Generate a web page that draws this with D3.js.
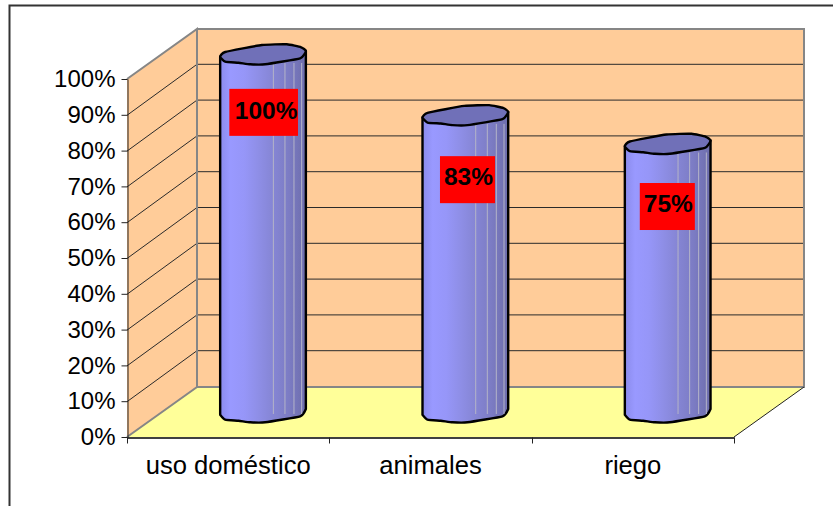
<!DOCTYPE html>
<html><head><meta charset="utf-8">
<script src="https://cdnjs.cloudflare.com/ajax/libs/d3/7.8.5/d3.min.js"></script>
<style>
html,body{margin:0;padding:0;background:#fff}
svg{display:block}
text{font-family:"Liberation Sans",Arial,sans-serif;fill:#000}
</style></head><body><svg id="c" width="833" height="506"></svg>
<script>
const categories = ["uso doméstico", "animales", "riego"];
const values = [1.00, 0.83, 0.75];
const valueLabels = ["100%", "83%", "75%"];
const tickValues = [0, .1, .2, .3, .4, .5, .6, .7, .8, .9, 1];
// height on the value axis at which each data label sits
const labelLevels = [0.837, 0.649, 0.574];
const labelNudge = [0.5, 2, -0.5];
const labelTextNudge = [2.5, 1, 1];
const labelBaseline = [7, 5.5, 5.5];

const svg = d3.select("#c");
const plot = {x0:127, x1:734, y0:437, y1:79, dx:70, dy:-50};
const y = d3.scaleLinear().domain([0,1]).range([plot.y0, plot.y1]);
const x = d3.scaleBand().domain(categories).range([plot.x0, plot.x1]);
const barBase = plot.y0 + plot.dy/2;   // cylinders stand mid-depth
const poly = d3.line().curve(d3.curveLinearClosed);
const smoothClosed = d3.line().curve(d3.curveCardinalClosed.tension(.55));
const smoothOpen = d3.line().curve(d3.curveCardinal.tension(.55));

// gradient of the cylinder body
const grad = svg.append("defs").append("linearGradient").attr("id","body");
[[0,"#8b8bec"],[.12,"#9999ff"],[.28,"#9696f8"],[.45,"#8e8ee6"],[.6,"#8686d6"],[.8,"#7c7cc4"],[1,"#6d6dab"]]
  .forEach(([o,c])=>grad.append("stop").attr("offset",o).attr("stop-color",c));

// outer frame: only top and left edges are in view
svg.append("path").attr("d","M9.5,506V5.5H833").attr("fill","none").attr("stroke","#333").attr("stroke-width",2);

const {x0,x1,y0,y1,dx,dy} = plot;
// floor
svg.append("path").attr("d",poly([[x0,y0],[x1,y0],[x1+dx,y0+dy],[x0+dx,y0+dy]])).attr("fill","#ffff99");
// left wall
svg.append("path").attr("d",poly([[x0,y0],[x0+dx,y0+dy],[x0+dx,y1+dy],[x0,y1]])).attr("fill","#ffcc99");
// back wall
svg.append("path").attr("d",poly([[x0+dx,y0+dy],[x1+dx,y0+dy],[x1+dx,y1+dy],[x0+dx,y1+dy]])).attr("fill","#ffcc99");

// gridlines
const grid = svg.append("g").attr("fill","none").attr("stroke","#2a2a2a").attr("stroke-width",1);
tickValues.filter(t=>t>0&&t<1).forEach(t=>{
  grid.append("path").attr("d",`M${x0},${y(t)+.5}L${x0+dx},${y(t)+dy-.5}H${x1+dx}`);
});

// grey wall edges
svg.append("path").attr("d",`M${x0},${y0}L${x0+dx},${y0+dy}V${y1+dy}L${x0},${y1}M${x0+dx},${y0+dy}H${x1+dx}V${y1+dy}H${x0+dx}`)
  .attr("fill","none").attr("stroke","#868686").attr("stroke-width",2);
// right floor edge
svg.append("path").attr("d",`M${x1},${y0}L${x1+dx},${y0+dy}`).attr("fill","none").attr("stroke","#222").attr("stroke-width",1);

// cylinders
const rimBack = [[-38,-2],[-1.3,-9],[23.7,-9.7],[38,-6.7],[42.7,-3]];
const rimFront = [[-43,2.7],[-38,7.7],[-24.7,8.7],[-13,10.3],[2,10.3],[37,4.3],[42.7,-3]];
const facets = [9.7,21.3,30.3,38];
const at = (pts,cx,cy)=>pts.map(p=>[cx+p[0],cy+p[1]]);

categories.forEach((c,i)=>{
  const cx = x(c)+x.bandwidth()/2+dx/2;
  const topY = y(values[i])+dy/2;
  const g = svg.append("g");
  const bottom = at(rimFront,cx,barBase);
  const topFront = at(rimFront,cx,topY);
  const tl = topFront[0], tr = topFront[topFront.length-1];
  g.append("path").attr("d",`M${tl}` + smoothOpen(bottom).replace(/^M/,"L") + `L${tr}Z`)
    .attr("fill","url(#body)").attr("stroke","#000").attr("stroke-width",2.4).attr("stroke-linejoin","round");
  facets.forEach(f=>{
    g.append("line").attr("x1",cx+f+.5).attr("x2",cx+f+.5).attr("y1",topY+9).attr("y2",barBase+2)
      .attr("stroke","#b4b4c8").attr("stroke-width",1);
  });
  g.append("path").attr("d",smoothClosed([...at(rimBack,cx,topY),...topFront.slice().reverse().slice(1)]))
    .attr("fill","#7070b8").attr("stroke","#000").attr("stroke-width",2.4).attr("stroke-linejoin","round");
});

// value axis
const yAxis = svg.append("g").attr("transform",`translate(${x0+.5},0)`)
  .call(d3.axisLeft(y).tickValues(tickValues).tickFormat(d3.format(".0%")).tickSize(6).tickPadding(6).tickSizeOuter(0));
yAxis.selectAll("text").style("font-size","24px");
yAxis.selectAll("line,path").attr("stroke","#222");

// category axis
const xAxis = svg.append("g").attr("transform",`translate(0,${y0+.5})`)
  .call(d3.axisBottom(x).tickSize(0).tickPadding(18).tickSizeOuter(0));
xAxis.selectAll("text").style("font-size","25.6px");
xAxis.selectAll("path").attr("stroke","#000").attr("stroke-width",1.5);
categories.concat([null]).forEach((c,i)=>{
  const px = Math.round(x0+i*x.step())+.5;
  xAxis.append("line").attr("x1",px).attr("x2",px).attr("y1",0).attr("y2",6).attr("stroke","#222");
});

// data labels
categories.forEach((c,i)=>{
  const cx = x(c)+x.bandwidth()/2+dx/2+labelNudge[i];
  const cy = y(labelLevels[i])+dy/2;
  const box = svg.append("rect").attr("fill","#ff0000");
  const t = svg.append("text").attr("x",cx+labelTextNudge[i]).attr("y",cy+labelBaseline[i]).attr("text-anchor","middle")
    .attr("font-weight","bold").style("font-size","24.5px").text(valueLabels[i]);
  const w = t.node().getComputedTextLength()+6;
  box.attr("x",cx-w/2).attr("width",w).attr("y",cy-23.5).attr("height",47);
});
</script></body></html>
